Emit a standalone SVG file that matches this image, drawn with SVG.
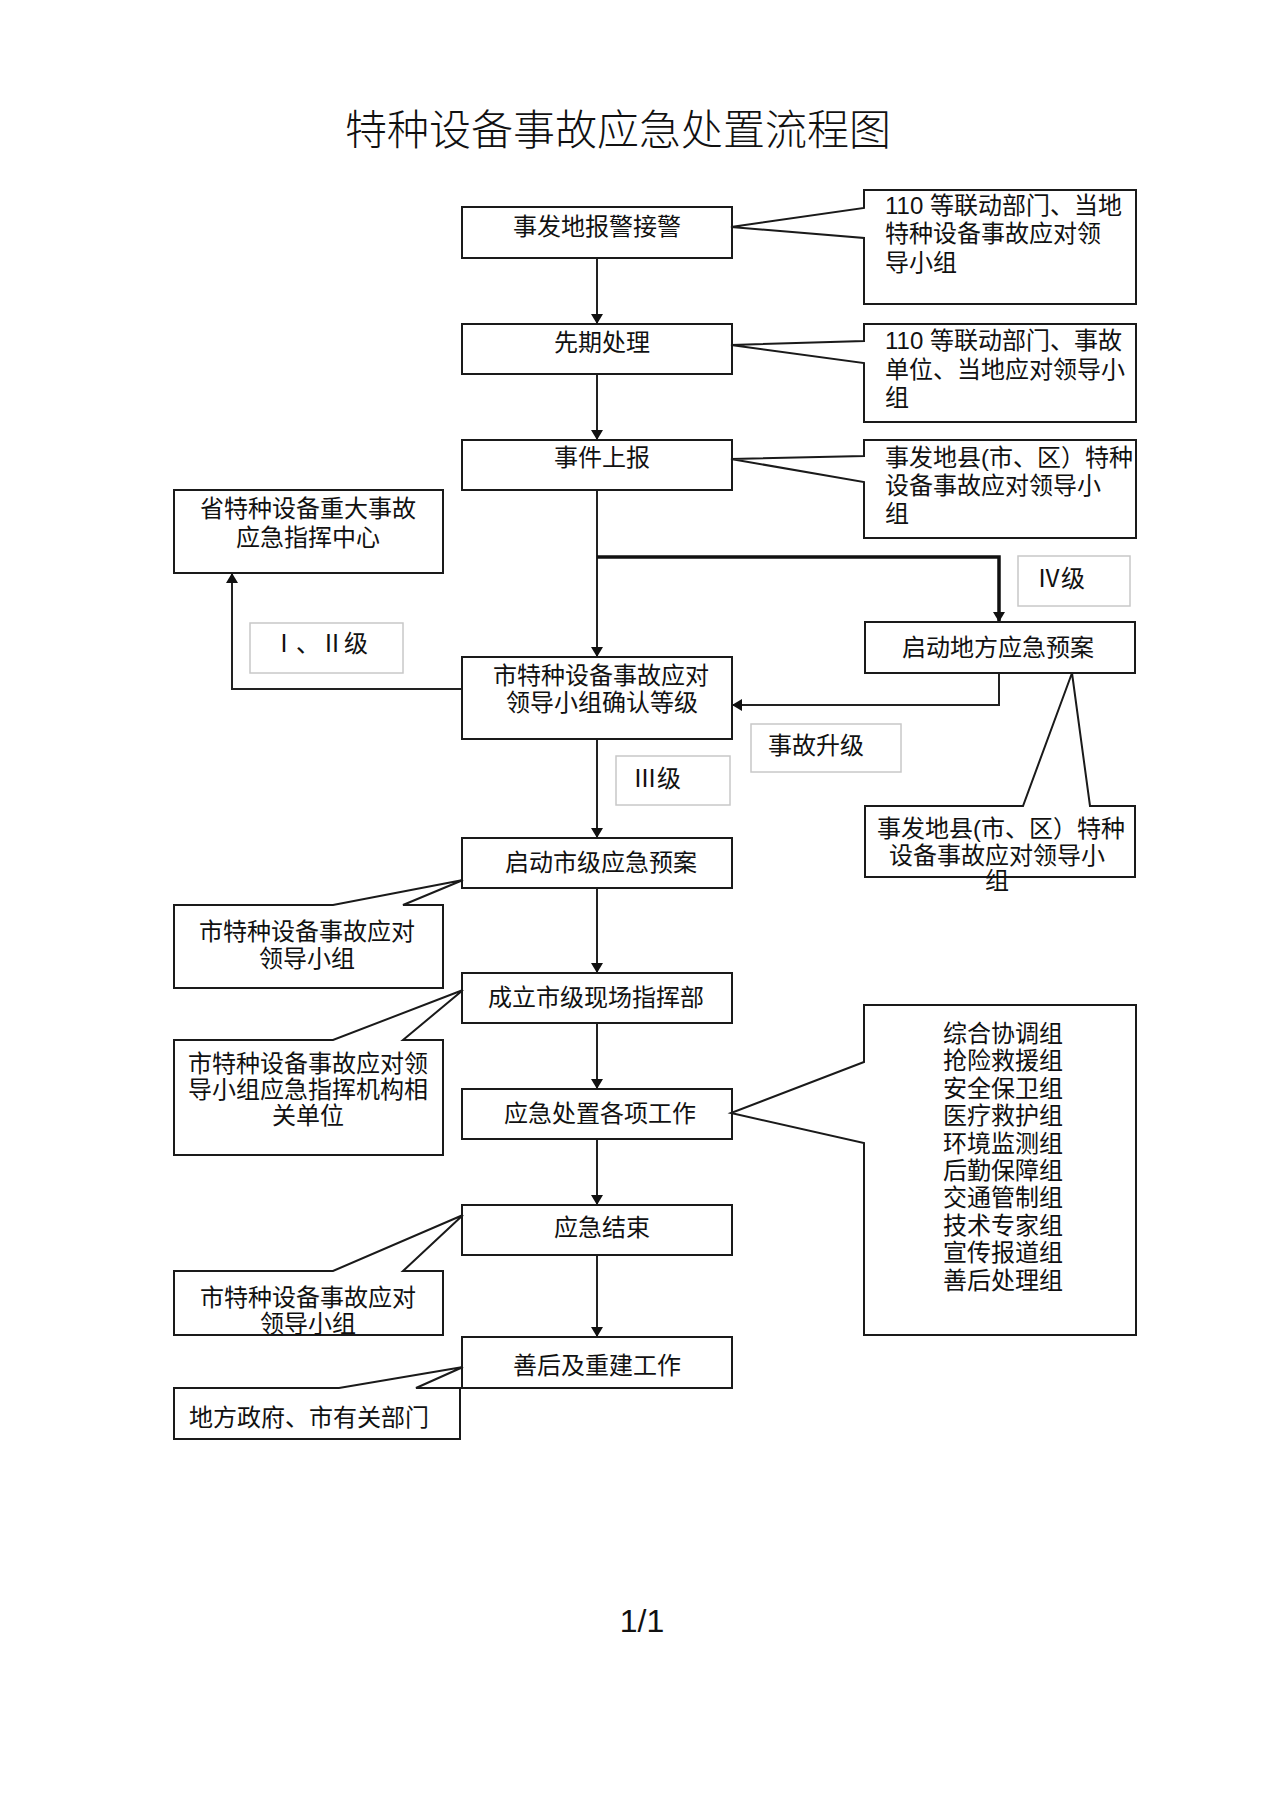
<svg xmlns="http://www.w3.org/2000/svg" width="1274" height="1804" viewBox="0 0 1274 1804">
<style>
  text { font-family: "Liberation Sans", "Noto Sans CJK SC", sans-serif; fill: #111; }
  .t { font-size: 24px; }
  .c { text-anchor: middle; }
  .title { font-size: 42px; font-weight: 300; text-anchor: middle; }
  .box { fill: #fff; stroke: #1a1a1a; stroke-width: 2; }
  .lbl { fill: #fff; stroke: #c8c8c8; stroke-width: 1.5; }
  .ln { fill: none; stroke: #222; stroke-width: 2; }
  .thick { fill: none; stroke: #111; stroke-width: 3.5; }
  .co { fill: #fff; stroke: #1a1a1a; stroke-width: 2; stroke-linejoin: miter; }
</style>
<defs>
  <marker id="ah" viewBox="0 0 10 12" refX="10" refY="6" markerWidth="10" markerHeight="12" markerUnits="userSpaceOnUse" orient="auto">
    <path d="M0,0 L10,6 L0,12 Z" fill="#111"/>
  </marker>
</defs>
<rect width="1274" height="1804" fill="#fff"/>

<text class="title" x="618" y="145">特种设备事故应急处置流程图</text>

<g id="connectors">
  <path class="ln" d="M597,258 V324" marker-end="url(#ah)"/>
  <path class="ln" d="M597,374 V440" marker-end="url(#ah)"/>
  <path class="ln" d="M597,490 V657" marker-end="url(#ah)"/>
  <path class="thick" d="M597,557 H999 V622" marker-end="url(#ah)"/>
  <path class="ln" d="M462,689 H232 V573" marker-end="url(#ah)"/>
  <path class="ln" d="M999,673 V705 H732" marker-end="url(#ah)"/>
  <path class="ln" d="M597,739 V838" marker-end="url(#ah)"/>
  <path class="ln" d="M597,888 V973" marker-end="url(#ah)"/>
  <path class="ln" d="M597,1023 V1089" marker-end="url(#ah)"/>
  <path class="ln" d="M597,1139 V1205" marker-end="url(#ah)"/>
  <path class="ln" d="M597,1255 V1337" marker-end="url(#ah)"/>
</g>

<g id="n1">
  <rect class="box" x="462" y="207" width="270" height="51"/>
  <text class="t c" x="597" y="235">事发地报警接警</text>
</g>
<g id="n2">
  <rect class="box" x="462" y="324" width="270" height="50"/>
  <text class="t c" x="602" y="351">先期处理</text>
</g>
<g id="n3">
  <rect class="box" x="462" y="440" width="270" height="50"/>
  <text class="t c" x="602" y="466">事件上报</text>
</g>
<g id="n4">
  <rect class="box" x="462" y="657" width="270" height="82"/>
  <text class="t c" x="601" y="684">市特种设备事故应对</text>
  <text class="t c" x="602" y="711">领导小组确认等级</text>
</g>
<g id="n5">
  <rect class="box" x="462" y="838" width="270" height="50"/>
  <text class="t c" x="601" y="871">启动市级应急预案</text>
</g>
<g id="n6">
  <rect class="box" x="462" y="973" width="270" height="50"/>
  <text class="t c" x="596" y="1006">成立市级现场指挥部</text>
</g>
<g id="n7">
  <rect class="box" x="462" y="1089" width="270" height="50"/>
  <text class="t c" x="600" y="1122">应急处置各项工作</text>
</g>
<g id="n8">
  <rect class="box" x="462" y="1205" width="270" height="50"/>
  <text class="t c" x="602" y="1236">应急结束</text>
</g>
<g id="n9">
  <rect class="box" x="462" y="1337" width="270" height="51"/>
  <text class="t c" x="597" y="1374">善后及重建工作</text>
</g>

<g id="r1">
  <path class="co" d="M864,190 H1136 V304 H864 V238 L731,227 L864,208 Z"/>
  <text class="t" x="885" y="214">110 等联动部门、当地</text>
  <text class="t" x="885" y="242">特种设备事故应对领</text>
  <text class="t" x="885" y="271">导小组</text>
</g>
<g id="r2">
  <path class="co" d="M864,324 H1136 V422 H864 V363 L731,345 L864,341 Z"/>
  <text class="t" x="885" y="349">110 等联动部门、事故</text>
  <text class="t" x="885" y="378">单位、当地应对领导小</text>
  <text class="t" x="885" y="406">组</text>
</g>
<g id="r3">
  <path class="co" d="M864,440 H1136 V538 H864 V482 L731,459 L864,456 Z"/>
  <text class="t" x="885" y="466">事发地县(市、区）特种</text>
  <text class="t" x="885" y="494">设备事故应对领导小</text>
  <text class="t" x="885" y="522">组</text>
</g>
<g id="r4">
  <rect class="box" x="865" y="622" width="270" height="51"/>
  <text class="t c" x="998" y="656">启动地方应急预案</text>
</g>
<g id="r5">
  <path class="co" d="M865,806 H1023 L1072,673 L1090,806 H1135 V877 H865 Z"/>
  <text class="t c" x="1001" y="837">事发地县(市、区）特种</text>
  <text class="t c" x="997" y="864">设备事故应对领导小</text>
  <text class="t c" x="997" y="889">组</text>
</g>
<g id="r6">
  <path class="co" d="M864,1005 H1136 V1335 H864 V1143 L731,1113 L864,1062 Z"/>
  <text class="t c" x="1003" y="1042">综合协调组</text>
  <text class="t c" x="1003" y="1069">抢险救援组</text>
  <text class="t c" x="1003" y="1097">安全保卫组</text>
  <text class="t c" x="1003" y="1124">医疗救护组</text>
  <text class="t c" x="1003" y="1152">环境监测组</text>
  <text class="t c" x="1003" y="1179">后勤保障组</text>
  <text class="t c" x="1003" y="1206">交通管制组</text>
  <text class="t c" x="1003" y="1234">技术专家组</text>
  <text class="t c" x="1003" y="1261">宣传报道组</text>
  <text class="t c" x="1003" y="1289">善后处理组</text>
</g>

<g id="l1">
  <rect class="box" x="174" y="490" width="269" height="83"/>
  <text class="t c" x="308" y="517">省特种设备重大事故</text>
  <text class="t c" x="308" y="546">应急指挥中心</text>
</g>
<g id="l2">
  <path class="co" d="M174,905 H333 L463,880 L403,905 H443 V988 H174 Z"/>
  <text class="t c" x="307" y="940">市特种设备事故应对</text>
  <text class="t c" x="307" y="967">领导小组</text>
</g>
<g id="l3">
  <path class="co" d="M174,1040 H333 L463,990 L403,1040 H443 V1155 H174 Z"/>
  <text class="t c" x="308" y="1072">市特种设备事故应对领</text>
  <text class="t c" x="308" y="1098">导小组应急指挥机构相</text>
  <text class="t c" x="308" y="1124">关单位</text>
</g>
<g id="l4">
  <path class="co" d="M174,1271 H333 L463,1215 L403,1271 H443 V1335 H174 Z"/>
  <text class="t c" x="308" y="1306">市特种设备事故应对</text>
  <text class="t c" x="308" y="1332">领导小组</text>
</g>
<g id="l5">
  <path class="co" d="M174,1388 H339 L463,1367 L416,1388 H460 V1439 H174 Z"/>
  <text class="t" x="189" y="1426">地方政府、市有关部门</text>
</g>

<g id="lab12">
  <rect class="lbl" x="250" y="623" width="153" height="50"/>
  <text class="t" x="272" y="652">Ⅰ、Ⅱ级</text>
</g>
<g id="lab4">
  <rect class="lbl" x="1018" y="556" width="112" height="50"/>
  <text class="t" x="1037" y="587">Ⅳ级</text>
</g>
<g id="labup">
  <rect class="lbl" x="751" y="724" width="150" height="48"/>
  <text class="t" x="768" y="754">事故升级</text>
</g>
<g id="lab3">
  <rect class="lbl" x="616" y="756" width="114" height="49"/>
  <text class="t" x="633" y="787">Ⅲ级</text>
</g>

<text x="642" y="1632" style="font-size:32px" text-anchor="middle">1/1</text>
</svg>
